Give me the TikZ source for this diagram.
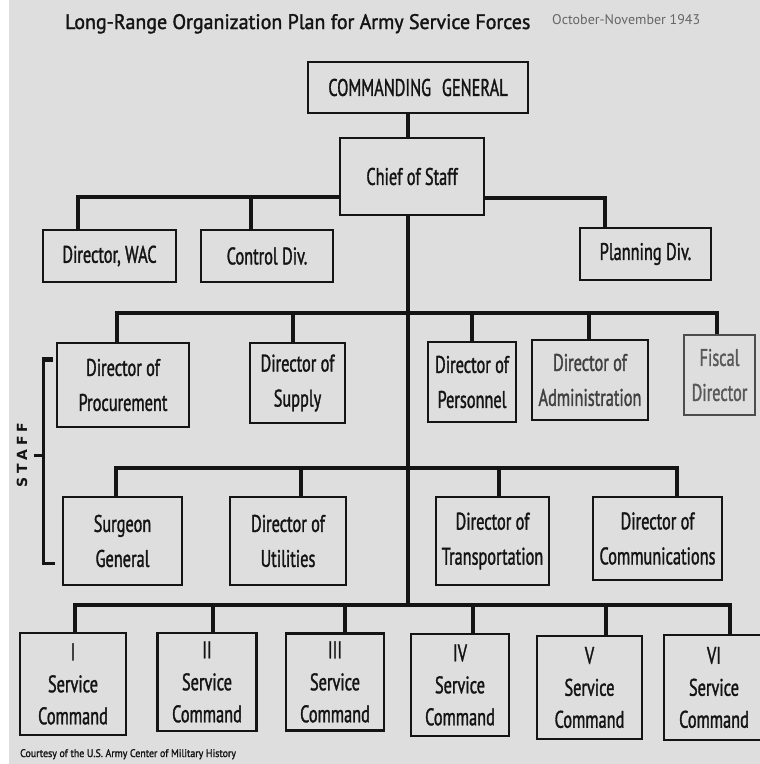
\documentclass[tikz,border=0pt]{standalone}
\usepackage{fontspec}
\setmainfont[FakeStretch=0.68, FakeBold=1.3]{PT Sans}
\newfontfamily\titlefont[FakeStretch=0.95, FakeBold=1.6]{PT Sans}
\newfontfamily\datefont[FakeStretch=1.0]{PT Sans}
\newfontfamily\credfont[FakeStretch=0.9, FakeBold=1.5]{PT Sans}
\newfontfamily\stafffont[LetterSpace=28]{DejaVu Sans}
\usetikzlibrary{calc}
\pgfdeclarelayer{paperlayer}
\pgfdeclarelayer{bg}
\pgfsetlayers{paperlayer,bg,main}
\definecolor{paper}{RGB}{222,222,222}
\definecolor{ink}{RGB}{20,20,20}
\begin{document}
\begin{tikzpicture}[x=1pt,y=-1pt,
  box/.style={draw=ink, line width=2.7pt, fill=paper, inner sep=0pt, align=center,
    font=\fontsize{24}{35}\selectfont, text=ink},
  scbox/.style={box, font=\fontsize{24}{32}\selectfont},
  bar/.style={line width=4.6pt, draw=ink, line cap=rect},
  drop/.style={line width=3.2pt, draw=ink},
  bracket/.style={line width=3pt, draw=ink}]
\useasboundingbox (0,0) rectangle (760,764);
\begin{pgfonlayer}{paperlayer}
\fill[paper] (0,0) rectangle (760,764);
\fill[white] (0,0) rectangle (9,764);
\end{pgfonlayer}

% title
\node[anchor=base west, inner sep=0pt, font=\titlefont\fontsize{21}{24}\selectfont, text=ink] (title) at (65,29) {Long-Range Organization Plan for Army Service Forces};
\node[anchor=base west, inner sep=0pt, font=\datefont\fontsize{14}{16}\selectfont, text=black!60] (date) at (552,24) {October-November 1943};

% top
\node[box, minimum width=220pt, minimum height=51pt] (cg) at (418,87.5) {COMMANDING\hspace{0.45em}GENERAL};
\node[box, minimum width=144pt, minimum height=77pt] (cos) at (412,176.5) {Chief of Staff};
\node[box, minimum width=133pt, minimum height=52pt] (wac) at (109.5,256) {Director, WAC};
\node[box, minimum width=132pt, minimum height=52pt] (ctrl) at (267,256) {Control Div.};
\node[box, minimum width=131pt, minimum height=52pt] (plan) at (645.5,254) {Planning Div.};

% staff row 1
\node[box, minimum width=132pt, minimum height=84pt] (proc) at (123,385) {Director of\\Procurement};
\node[box, minimum width=95pt, minimum height=80pt] (sup) at (297.5,383) {Director of\\Supply};
\node[box, minimum width=88pt, minimum height=80pt] (pers) at (472,382) {Director of\\Personnel};
\node[box, minimum width=116pt, minimum height=80pt, text=black!75] (adm) at (590,380) {Director of\\Administration};
\node[box, minimum width=71pt, minimum height=80pt, draw=black!70, text=black!65] (fis) at (719.5,375) {Fiscal\\Director};

% staff row 2
\node[box, minimum width=119pt, minimum height=88pt] (surg) at (122.5,541) {Surgeon\\General};
\node[box, minimum width=116pt, minimum height=88pt] (util) at (288,541) {Director of\\Utilities};
\node[box, minimum width=113pt, minimum height=88pt] (trans) at (492.5,541) {Director of\\Transportation};
\node[box, minimum width=129pt, minimum height=83pt] (comm) at (657.5,538.5) {Director of\\Communications};

% service commands
\node[scbox, minimum width=106pt, minimum height=102pt] (sc1) at (73,684) {I\\Service\\Command};
\node[scbox, minimum width=99pt, minimum height=98pt] (sc2) at (207,682) {II\\Service\\Command};
\node[scbox, minimum width=98pt, minimum height=97pt] (sc3) at (335,682) {III\\Service\\Command};
\node[scbox, minimum width=98pt, minimum height=102pt] (sc4) at (460,685) {IV\\Service\\Command};
\node[scbox, minimum width=105pt, minimum height=103pt] (sc5) at (589.5,687.5) {V\\Service\\Command};
\node[scbox, minimum width=100pt, minimum height=105pt] (sc6) at (714,687.5) {VI\\Service\\Command};

% staff label
\node[rotate=90, inner sep=0pt, font=\stafffont\bfseries\fontsize{14}{15}\selectfont, text=ink] (staff) at (22,455) {STAFF};

% credit
\node[anchor=base west, inner sep=0pt, font=\credfont\fontsize{11}{12}\selectfont, text=ink] (credit) at (20,757) {Courtesy of the U.S. Army Center of Military History};

\begin{pgfonlayer}{bg}
  \coordinate (mx) at (408,0);
  % commanding general to chief of staff, main spine
  \draw[drop] (cg.south -| mx) -- (cos.north -| mx);
  \coordinate (r3) at (408,605);
  \draw[drop, line width=3.4pt] (cos.south -| mx) -- (r3);
  % top bars
  \coordinate (tl) at (78,197);
  \coordinate (tc) at (251,197);
  \coordinate (tr) at (605,198);
  \draw[bar] (cos.west |- tl) -- (tl);
  \draw[bar] (cos.east |- tr) -- (tr);
  \draw[drop] (tl) -- (tl |- wac.north);
  \draw[drop] (tc) -- (tc |- ctrl.north);
  \draw[drop] (tr) -- (tr |- plan.north);
  % row 1
  \coordinate (a1) at (117,313);
  \coordinate (a2) at (293,313);
  \coordinate (a3) at (472,313);
  \coordinate (a4) at (589,313);
  \coordinate (a5) at (717,313);
  \draw[bar] (a1) -- (a5);
  \draw[drop] (a1) -- (a1 |- proc.north);
  \draw[drop] (a2) -- (a2 |- sup.north);
  \draw[drop] (a3) -- (a3 |- pers.north);
  \draw[drop] (a4) -- (a4 |- adm.north);
  \draw[drop] (a5) -- (a5 |- fis.north);
  % row 2
  \coordinate (b1) at (116,468);
  \coordinate (b2) at (301,468);
  \coordinate (b3) at (499,468);
  \coordinate (b4) at (677,468);
  \draw[bar] (b1) -- (b4);
  \draw[drop] (b1) -- (b1 |- surg.north);
  \draw[drop] (b2) -- (b2 |- util.north);
  \draw[drop] (b3) -- (b3 |- trans.north);
  \draw[drop] (b4) -- (b4 |- comm.north);
  % row 3
  \coordinate (c1) at (75,605);
  \coordinate (c2) at (213,605);
  \coordinate (c3) at (345,605);
  \coordinate (c4) at (473,605);
  \coordinate (c5) at (606,605);
  \coordinate (c6) at (730,605);
  \draw[bar] (c1) -- (c6);
  \draw[drop] (c1) -- (c1 |- sc1.north);
  \draw[drop] (c2) -- (c2 |- sc2.north);
  \draw[drop] (c3) -- (c3 |- sc3.north);
  \draw[drop] (c4) -- (c4 |- sc4.north);
  \draw[drop] (c5) -- (c5 |- sc5.north);
  \draw[drop] (c6) -- (c6 |- sc6.north);
  % staff bracket
  \coordinate (k1) at (53,359);
  \coordinate (k2) at (55,563);
  \coordinate (km) at (43,455);
  \coordinate (kt) at (34,455);
  \draw[bracket] (k1) -- (k1 -| km) -- (k2 -| km) -- (k2);
  \draw[bracket, line width=5pt] (k1) -- ($(k1 -| km)+(-1.5,0)$);
  \draw[bracket] (km) -- (kt);
\end{pgfonlayer}
\end{tikzpicture}
\end{document}
